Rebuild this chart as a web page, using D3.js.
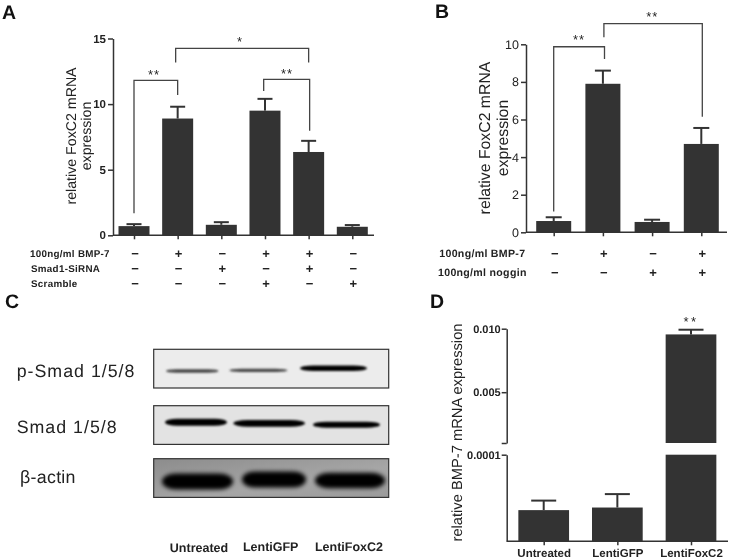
<!DOCTYPE html>
<html><head><meta charset="utf-8">
<script src="https://cdn.jsdelivr.net/npm/d3@7"></script>
<style>html,body{margin:0;padding:0;background:#fff}svg{display:block;filter:blur(0.35px)}text{font-family:"Liberation Sans",Arial,sans-serif;fill:#222;text-rendering:geometricPrecision}</style>
</head><body><svg id="c" width="730" height="560"></svg>
<script>
// ---- data ----
const aValues=[0.7,8.9,0.8,9.5,6.35,0.65];
const aErrTops=[0.85,9.8,1.0,10.4,7.2,0.78];
const aTicks=[0,5,10,15];
const aRowLabels=["100ng/ml BMP-7","Smad1-SiRNA","Scramble"];
const aRows=[["−","+","−","+","+","−"],["−","−","+","−","+","−"],["−","−","−","+","−","+"]];
const bValues=[0.6,7.9,0.55,4.7];
const bErrTops=[0.8,8.6,0.67,5.55];
const bTicks=[0,2,4,6,8,10];
const bRowLabels=["100ng/ml BMP-7","100ng/ml noggin"];
const bRows=[["−","+","−","+"],["−","−","+","+"]];
const dCategories=["Untreated","LentiGFP","LentiFoxC2"];
const dValues=[0.000036,0.000039,0.00955];
const dErrTops=[0.000047,0.0000545,0.00992];
const blotNames=["p-Smad 1/5/8","Smad 1/5/8","β-actin"];
const blotSignal=[[0.6,0.6,1],[1,0.95,0.85],[1,1,0.97]];
const lanes=["Untreated","LentiGFP","LentiFoxC2"];

const svg=d3.select("#c");
const BAR="#333333", LINE="#333333";

function yAxisStyle(g,size,weight,color,sw){
  g.selectAll("path.domain,line").attr("stroke",LINE).attr("stroke-width",sw);
  g.selectAll("text").attr("font-size",size).attr("font-weight",weight).style("fill",color);
}
function panel(o){
  const g=svg.append("g");
  const x=d3.scaleLinear().domain([0,o.values.length-1]).range(o.xr);
  const y=d3.scaleLinear().domain([0,o.ymax]).range(o.yr);
  g.selectAll("rect.bar").data(o.values).join("rect").attr("class","bar")
    .attr("x",(d,i)=>x(i)-o.bw/2).attr("width",o.bw).attr("y",d=>y(d)).attr("height",d=>y(0)-y(d)).attr("fill",BAR);
  o.errs.forEach((t,i)=>{
    g.append("line").attr("x1",x(i)).attr("x2",x(i)).attr("y1",y(o.values[i])).attr("y2",y(t)).attr("stroke",BAR).attr("stroke-width",2);
    g.append("line").attr("x1",x(i)-o.cap/2).attr("x2",x(i)+o.cap/2).attr("y1",y(t)).attr("y2",y(t)).attr("stroke",BAR).attr("stroke-width",2);
  });
  const ay=g.append("g").attr("transform",`translate(${o.ax},0)`).call(d3.axisLeft(y).tickValues(o.ticks).tickSize(5).tickSizeOuter(0).tickPadding(2).tickFormat(d3.format("d")));
  yAxisStyle(ay,o.tickFont,o.tickWeight,"#222",1.5);
  const ax=g.append("g").attr("transform",`translate(0,${o.yr[0]})`).call(d3.axisBottom(x).tickValues(d3.range(o.values.length)).tickSize(4).tickSizeOuter(0).tickFormat(""));
  ax.select("path.domain").attr("d",`M${o.ax},0H${o.xEnd}`);
  ax.selectAll("path.domain,line").attr("stroke",LINE).attr("stroke-width",1.5);
  o.title.forEach((t,i)=>g.append("text").attr("transform",`translate(${o.titleX[i]},${o.titleY}) rotate(-90)`).attr("text-anchor","middle").attr("font-size",o.titleFont).text(t));
  o.rowLabels.forEach((t,i)=>{
    g.append("text").attr("x",o.rowX[i]).attr("y",o.rowY[i]+3.5).attr("font-size",o.rowFont).attr("font-weight","bold").attr("letter-spacing",0.3).text(t);
    o.rows[i].forEach((s,j)=>g.append("text").attr("x",x(j)+1).attr("y",o.rowY[i]+4.5).attr("text-anchor","middle").attr("font-size",13).attr("font-weight","bold").text(s));
  });
  o.brackets.forEach(b=>{
    const x1=x(b[0])+b[5], x2=x(b[1])+b[6];
    g.append("path").attr("fill","none").attr("stroke","#444").attr("stroke-width",1.3)
      .attr("d",d3.line()([[x1,y(b[3])],[x1,y(b[2])],[x2,y(b[2])],[x2,y(b[4])]]));
  });
  o.stars.forEach(s=>g.append("text").attr("x",s[0]).attr("y",s[1]+6.5).attr("text-anchor","middle").attr("font-size",13).attr("letter-spacing",1).text(s[2]));
}
panel({values:aValues,errs:aErrTops,ticks:aTicks,ymax:15,xr:[134,352.3],yr:[235.3,38.5],bw:31,cap:15,ax:113,xEnd:374,
  tickFont:11.5,tickWeight:"bold",title:["relative FoxC2 mRNA","expression"],titleX:[76,91],titleY:136,titleFont:14.2,
  rowLabels:aRowLabels,rows:aRows,rowX:[30,31,31],rowY:[253,268,283],rowFont:9.8,
  brackets:[[0,1,11.81,1.68,10.7,0,0],[1,4,14.25,13.18,13.18,-2,0],[3,4,11.88,11.0,7.97,-1.3,1]],
  stars:[[154,72.7,"**"],[240,39,"*"],[287,71,"**"]]});
panel({values:bValues,errs:bErrTops,ticks:bTicks,ymax:10,xr:[553.7,701.3],yr:[232.3,44.3],bw:35,cap:16,ax:526,xEnd:727,
  tickFont:12.5,tickWeight:"normal",title:["relative FoxC2 mRNA","expression"],titleX:[490,508],titleY:138,titleFont:15.8,
  rowLabels:bRowLabels,rows:bRows,rowX:[439.3,438],rowY:[253,272],rowFont:10.6,
  brackets:[[0,1,9.87,1.1,9.22,0,1.6],[1,3,11.1,10.37,6.15,1,1]],
  stars:[[579,37,"**"],[652.3,14.7,"**"]]});

// Panel D: broken axis
(function(){
  const g=svg.append("g");
  const x=d3.scalePoint().domain(dCategories).range([543.7,691]);
  const yLow=d3.scaleLinear().domain([0,0.0001]).range([541.3,454.7]);
  const yHigh=d3.scaleLinear().domain([0.001,0.01]).range([443,328.7]);
  const bw=50.7,cap=25;
  dCategories.forEach((c,i)=>{
    const v=dValues[i],t=dErrTops[i];
    const top=Math.min(v,0.0001);
    g.append("rect").attr("x",x(c)-bw/2).attr("width",bw).attr("y",yLow(top)).attr("height",yLow(0)-yLow(top)).attr("fill",BAR);
    if(v>0.001) g.append("rect").attr("x",x(c)-bw/2).attr("width",bw).attr("y",yHigh(v)).attr("height",yHigh(0.001)-yHigh(v)).attr("fill",BAR);
    const yy=v>0.001?yHigh:yLow;
    g.append("line").attr("x1",x(c)).attr("x2",x(c)).attr("y1",yy(v)).attr("y2",yy(t)).attr("stroke",BAR).attr("stroke-width",2);
    g.append("line").attr("x1",x(c)-cap/2).attr("x2",x(c)+cap/2).attr("y1",yy(t)).attr("y2",yy(t)).attr("stroke",BAR).attr("stroke-width",2);
  });
  const up=g.append("g").attr("transform","translate(506.7,0)").call(d3.axisLeft(yHigh).tickValues([0.001,0.005,0.01]).tickSize(5).tickSizeOuter(0).tickPadding(1).tickFormat(d=>d===0.001?"":d3.format(".3f")(d)));
  yAxisStyle(up,11,"bold","#222",1.5);
  const lo=g.append("g").attr("transform","translate(506.7,0)").call(d3.axisLeft(yLow).tickValues([0.0001]).tickSize(5).tickSizeOuter(0).tickPadding(1).tickFormat(()=>"0.0001"));
  yAxisStyle(lo,11,"bold","#222",1.5);
  const ax=g.append("g").attr("transform","translate(0,541.3)").call(d3.axisBottom(x).tickSize(4).tickSizeOuter(0).tickPadding(4));
  ax.select("path.domain").attr("d","M506.7,0H728");
  ax.selectAll("path.domain,line").attr("stroke",LINE).attr("stroke-width",1.5);
  ax.selectAll("text").attr("font-size",11.5).attr("font-weight","bold");
  g.append("text").attr("transform","translate(462,432.5) rotate(-90)").attr("text-anchor","middle").attr("font-size",14.7).text("relative BMP-7 mRNA expression");
  g.append("text").attr("x",691).attr("y",326).attr("text-anchor","middle").attr("font-size",13).attr("letter-spacing",2.5).text("**");
})();

// Panel C: blots
(function(){
  const defs=svg.append("defs");
  [["b1",0.9],["b2",2]].forEach(f=>defs.append("filter").attr("id",f[0]).attr("x","-20%").attr("y","-60%").attr("width","140%").attr("height","220%").append("feGaussianBlur").attr("stdDeviation",f[1]));
  const grad=defs.append("linearGradient").attr("id","act").attr("x1",0).attr("x2",1).attr("y1",0).attr("y2",1);
  grad.append("stop").attr("offset",0).attr("stop-color","#8c8c8c");
  grad.append("stop").attr("offset",0.6).attr("stop-color","#a6a6a6");
  grad.append("stop").attr("offset",1).attr("stop-color","#9a9a9a");
  const layout=[
    {top:349.3,fill:"#ececec",maxH:5.5,blur:"b1",ctr:[371,370.3,368.3],x0:[166,229.3,300],x1:[218.5,287.5,367]},
    {top:405.7,fill:"#e3e3e3",maxH:7,blur:"b1",ctr:[422.3,423.3,424.7],x0:[165,233.3,313],x1:[227,305,380]},
    {top:458.7,fill:"url(#act)",maxH:16,blur:"b2",ctr:[481.5,479.5,480.5],x0:[162,242,315],x1:[233,306,385]}
  ];
  const g=svg.append("g");
  const bw=235,bh=38.7;
  blotNames.forEach((name,r)=>{
    const L=layout[r];
    g.append("rect").attr("x",153.7).attr("y",L.top).attr("width",bw).attr("height",bh).attr("fill",L.fill).attr("stroke","#333").attr("stroke-width",1.2);
    blotSignal[r].forEach((s,i)=>{
      const h=L.maxH*s;
      g.append("rect").attr("x",L.x0[i]).attr("width",L.x1[i]-L.x0[i]).attr("y",L.ctr[i]-h/2).attr("height",h)
        .attr("rx",(L.x1[i]-L.x0[i])/5).attr("ry",h/2)
        .attr("fill",r===0&&s<1?"#444":"#000").attr("filter",`url(#${L.blur})`);
    });
  });
  const ly=[376.7,432.7,483],lx=[16.7,16.7,20],ls=[1,1,0.3];
  blotNames.forEach((t,i)=>g.append("text").attr("x",lx[i]).attr("y",ly[i]).attr("font-size",17.8).attr("letter-spacing",ls[i]).text(t));
  const lc=[199,270.7,349],lb=[551.7,550.7,550.7];
  lanes.forEach((t,i)=>g.append("text").attr("x",lc[i]).attr("y",lb[i]).attr("text-anchor","middle").attr("font-size",12.5).attr("font-weight","bold").text(t));
})();

// panel letters
const letters=["A","B","C","D"],lX=[2,435,5,430],lY=[19,18,308,308];
letters.forEach((t,i)=>svg.append("text").attr("x",lX[i]).attr("y",lY[i]).attr("font-size",19.5).attr("font-weight","bold").style("fill","#111").text(t));
</script></body></html>
